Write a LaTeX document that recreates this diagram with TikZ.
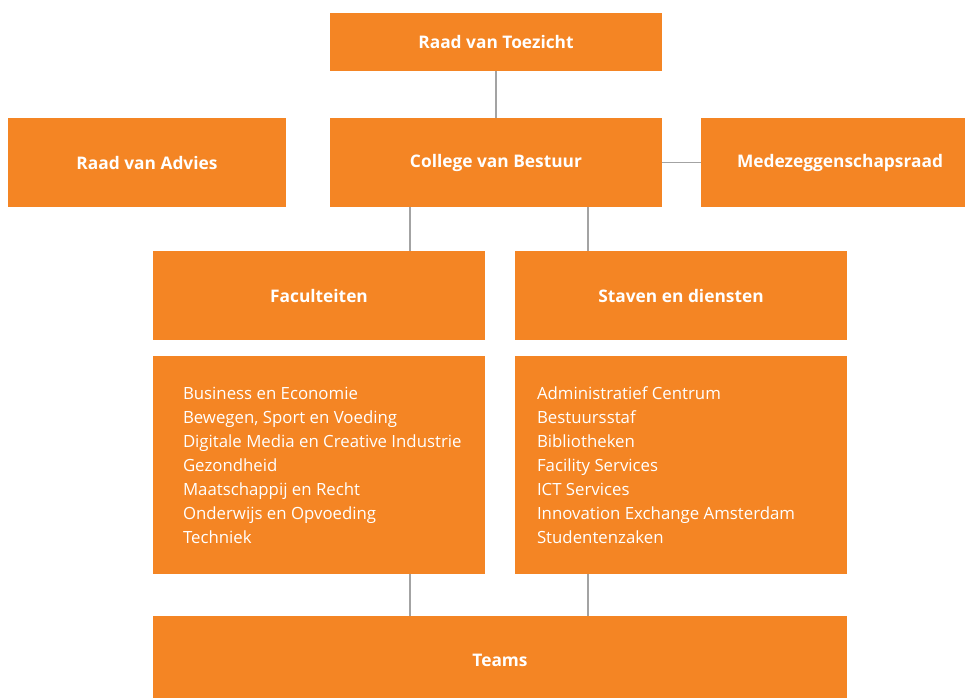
\documentclass[tikz,border=0pt]{standalone}
\usepackage{fontspec}
\setmainfont{Open Sans}
\usepackage{xcolor}
\usetikzlibrary{positioning}
\definecolor{HvaOrange}{HTML}{F48524}
\definecolor{LinkGray}{HTML}{A3A3A3}
\tikzset{
    orgbox/.style={fill=HvaOrange,draw=none,text=white,font=\bfseries\fontsize{13}{15}\selectfont,inner sep=0pt},
    listbox/.style={fill=HvaOrange,draw=none,inner sep=0pt,minimum width=249pt,minimum height=163.5pt},
    listtext/.style={text=white,font=\fontsize{12.6}{18}\selectfont,align=left,inner sep=0pt},
    link/.style={draw=LinkGray,line width=1.1pt}
}

\begin{document}
\begin{tikzpicture}[x=0.75pt,y=-0.75pt]
    \useasboundingbox (0,0) rectangle (965,697);

    \node[orgbox,minimum width=249pt,minimum height=43.5pt] (toezicht) at (496,42) {Raad van Toezicht};
    \node[orgbox,minimum width=208.5pt,minimum height=66.75pt] (advies) at (147,162.5) {Raad van Advies};
    \node[orgbox,minimum width=249pt,minimum height=66.75pt] (college) at (496,162.5) {College van Bestuur};
    \node[orgbox,minimum width=208.5pt,minimum height=66.75pt] (mzr) at (840,162.5) {Medezeggenschapsraad};
    \node[orgbox,minimum width=249pt,minimum height=66.75pt] (fac) at (319,295.5) {Faculteiten};
    \node[orgbox,minimum width=249pt,minimum height=66.75pt] (staf) at (681,295.5) {Staven en diensten};

    \node[listbox] (faclist) at (319,465) {};
    \node[listbox] (staflist) at (681,465) {};
    \node[listtext,right=22.5pt of faclist.west] (factext) {Business en Economie\\
        Bewegen, Sport en Voeding\\
        Digitale Media en Creative Industrie\\
        Gezondheid\\
        Maatschappij en Recht\\
        Onderwijs en Opvoeding\\
        Techniek};
    \node[listtext,right=16.5pt of staflist.west] (staftext) {Administratief Centrum\\
        Bestuursstaf\\
        Bibliotheken\\
        Facility Services\\
        ICT Services\\
        Innovation Exchange Amsterdam\\
        Studentenzaken};

    \node[orgbox,minimum width=520.5pt,minimum height=66pt] (teams) at (500,660) {Teams};

    \coordinate (lk) at (410,0);
    \coordinate (rk) at (588,0);

    \draw[link] (toezicht.south) -- (college.north);
    \draw[link] (college.east) -- (mzr.west);
    \draw[link] (college.south -| lk) -- (fac.north -| lk);
    \draw[link] (college.south -| rk) -- (staf.north -| rk);
    \draw[link] (faclist.south -| lk) -- (teams.north -| lk);
    \draw[link] (staflist.south -| rk) -- (teams.north -| rk);
\end{tikzpicture}
\end{document}
